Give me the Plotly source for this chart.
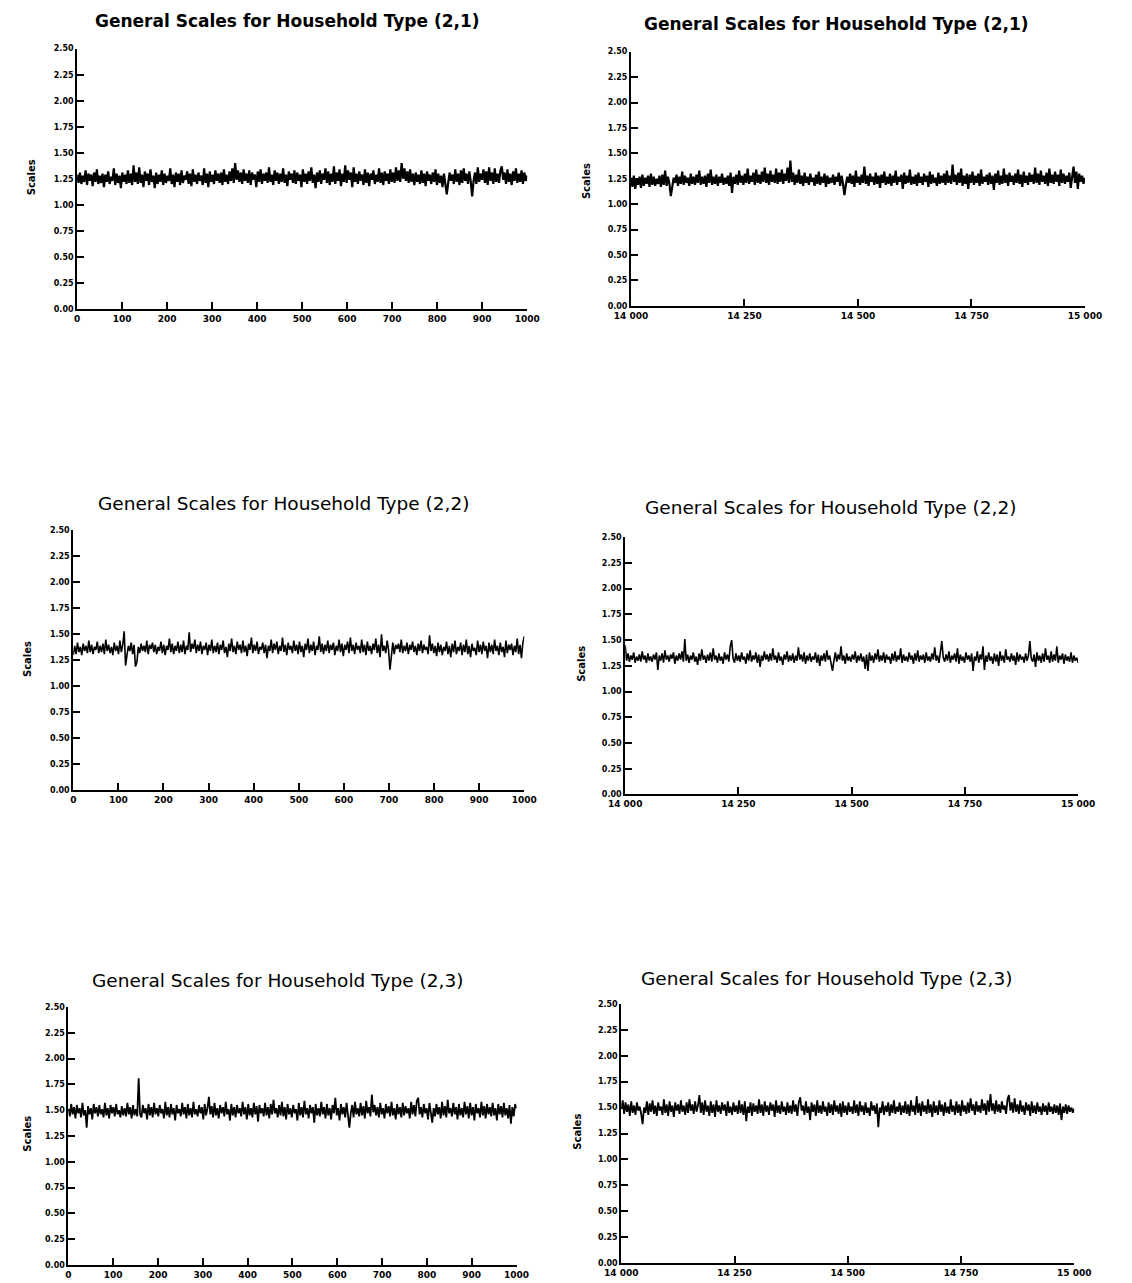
import numpy as np
import plotly.graph_objects as go

W, H = 1132, 1283

# ---- scale traces, sampled every ~3rd iteration ----
scales_21_early = [
    1.29,1.21,1.31,1.20,1.28,1.22,1.33,1.19,1.30,1.23,1.29,1.18,1.31,1.22,1.34,1.20,1.28,1.21,1.30,1.17,
    1.29,1.22,1.32,1.20,1.27,1.23,1.35,1.19,1.30,1.21,1.28,1.16,1.31,1.22,1.29,1.20,1.33,1.21,1.30,1.19,
    1.38,1.22,1.31,1.20,1.36,1.21,1.29,1.17,1.32,1.23,1.30,1.19,1.34,1.22,1.28,1.16,1.31,1.20,1.29,1.22,
    1.33,1.19,1.30,1.21,1.28,1.23,1.35,1.20,1.29,1.17,1.31,1.22,1.30,1.19,1.33,1.21,1.28,1.24,1.32,1.20,
    1.30,1.18,1.34,1.22,1.29,1.20,1.31,1.23,1.28,1.19,1.35,1.21,1.30,1.17,1.32,1.22,1.29,1.20,1.33,1.23,
    1.30,1.21,1.31,1.19,1.34,1.22,1.29,1.20,1.32,1.23,1.35,1.21,1.40,1.24,1.33,1.22,1.31,1.20,1.34,1.23,
    1.30,1.21,1.33,1.19,1.31,1.24,1.29,1.17,1.32,1.22,1.34,1.20,1.30,1.23,1.31,1.21,1.36,1.22,1.29,1.19,
    1.33,1.23,1.31,1.20,1.30,1.22,1.35,1.21,1.29,1.18,1.32,1.24,1.30,1.21,1.33,1.20,1.31,1.23,1.29,1.17,
    1.34,1.22,1.30,1.20,1.32,1.23,1.36,1.21,1.29,1.16,1.31,1.22,1.33,1.20,1.30,1.24,1.35,1.21,1.32,1.19,
    1.30,1.22,1.37,1.20,1.31,1.23,1.34,1.18,1.30,1.22,1.38,1.21,1.33,1.24,1.31,1.17,1.36,1.22,1.30,1.20,
    1.32,1.23,1.29,1.19,1.34,1.21,1.31,1.18,1.30,1.24,1.33,1.20,1.29,1.22,1.35,1.21,1.31,1.19,1.32,1.23,
    1.30,1.20,1.34,1.22,1.31,1.21,1.36,1.23,1.33,1.22,1.40,1.25,1.35,1.23,1.32,1.21,1.34,1.22,1.30,1.19,
    1.31,1.22,1.29,1.20,1.33,1.21,1.30,1.18,1.32,1.23,1.29,1.20,1.31,1.22,1.34,1.19,1.30,1.21,1.28,1.17,
    1.30,1.22,1.10,1.21,1.31,1.23,1.29,1.20,1.34,1.22,1.30,1.19,1.33,1.21,1.35,1.23,1.30,1.20,1.32,1.22,
    1.08,1.23,1.31,1.20,1.36,1.22,1.30,1.24,1.34,1.21,1.32,1.19,1.36,1.23,1.31,1.20,1.35,1.22,1.30,1.21,
    1.33,1.37,1.24,1.31,1.20,1.34,1.22,1.30,1.19,1.32,1.23,1.35,1.21,1.30,1.22,1.33,1.20,1.31,1.23,1.28,
]
scales_21_late = [
    1.26,1.17,1.28,1.15,1.25,1.19,1.27,1.16,1.29,1.18,1.26,1.20,1.28,1.17,1.30,1.19,1.27,1.18,1.25,1.20,
    1.28,1.17,1.29,1.19,1.33,1.18,1.27,1.20,1.08,1.19,1.26,1.21,1.29,1.18,1.27,1.20,1.32,1.19,1.28,1.21,
    1.26,1.18,1.30,1.20,1.27,1.19,1.29,1.21,1.33,1.19,1.27,1.20,1.28,1.17,1.30,1.21,1.34,1.19,1.27,1.20,
    1.29,1.18,1.27,1.21,1.30,1.19,1.26,1.20,1.28,1.18,1.31,1.11,1.27,1.20,1.29,1.19,1.33,1.21,1.28,1.19,
    1.30,1.21,1.35,1.20,1.28,1.22,1.31,1.19,1.34,1.21,1.29,1.20,1.32,1.22,1.36,1.21,1.30,1.19,1.33,1.22,
    1.29,1.21,1.35,1.20,1.31,1.22,1.34,1.20,1.30,1.23,1.36,1.21,1.43,1.22,1.31,1.19,1.29,1.21,1.34,1.20,
    1.28,1.18,1.31,1.21,1.27,1.19,1.30,1.22,1.26,1.18,1.29,1.20,1.32,1.19,1.27,1.21,1.30,1.17,1.28,1.20,
    1.26,1.21,1.29,1.19,1.27,1.22,1.31,1.18,1.28,1.20,1.09,1.19,1.27,1.21,1.30,1.20,1.28,1.17,1.33,1.21,
    1.27,1.19,1.29,1.21,1.37,1.20,1.28,1.18,1.30,1.22,1.27,1.19,1.31,1.20,1.28,1.16,1.29,1.21,1.32,1.19,
    1.27,1.20,1.30,1.18,1.28,1.21,1.33,1.19,1.27,1.22,1.29,1.15,1.31,1.20,1.28,1.21,1.34,1.19,1.27,1.20,
    1.29,1.18,1.31,1.21,1.27,1.19,1.30,1.22,1.28,1.17,1.32,1.20,1.29,1.21,1.26,1.18,1.31,1.20,1.28,1.21,
    1.30,1.19,1.33,1.21,1.28,1.20,1.39,1.22,1.29,1.19,1.31,1.21,1.35,1.18,1.28,1.20,1.30,1.15,1.29,1.21,
    1.32,1.19,1.28,1.21,1.30,1.18,1.34,1.20,1.27,1.22,1.29,1.19,1.31,1.20,1.28,1.14,1.30,1.21,1.33,1.19,
    1.28,1.20,1.35,1.21,1.29,1.18,1.31,1.22,1.28,1.19,1.30,1.21,1.34,1.20,1.29,1.17,1.32,1.21,1.28,1.19,
    1.31,1.22,1.29,1.20,1.36,1.21,1.30,1.19,1.33,1.22,1.28,1.20,1.31,1.18,1.35,1.21,1.29,1.20,1.32,1.22,
    1.29,1.18,1.34,1.21,1.30,1.20,1.28,1.22,1.31,1.16,1.29,1.37,1.21,1.32,1.15,1.30,1.22,1.28,1.20,1.26,
]
scales_22_early = [
    1.30,1.39,1.31,1.42,1.33,1.38,1.30,1.41,1.34,1.39,1.32,1.44,1.33,1.40,1.31,1.38,1.35,1.43,1.32,1.39,
    1.33,1.41,1.31,1.45,1.34,1.40,1.32,1.38,1.30,1.42,1.34,1.39,1.31,1.44,1.33,1.40,1.53,1.20,1.30,1.39,
    1.34,1.42,1.31,1.40,1.19,1.23,1.38,1.32,1.41,1.34,1.39,1.33,1.44,1.31,1.40,1.36,1.42,1.33,1.40,1.31,
    1.38,1.34,1.43,1.32,1.40,1.30,1.39,1.35,1.46,1.33,1.41,1.31,1.39,1.34,1.43,1.32,1.40,1.33,1.44,1.31,
    1.39,1.35,1.52,1.33,1.41,1.36,1.45,1.32,1.40,1.34,1.43,1.31,1.39,1.35,1.42,1.30,1.40,1.34,1.45,1.32,
    1.39,1.33,1.42,1.31,1.40,1.35,1.44,1.32,1.38,1.28,1.41,1.34,1.46,1.33,1.39,1.31,1.43,1.35,1.40,1.32,
    1.44,1.33,1.39,1.29,1.41,1.35,1.47,1.32,1.40,1.34,1.43,1.31,1.38,1.35,1.42,1.32,1.40,1.27,1.39,1.34,
    1.45,1.32,1.41,1.35,1.43,1.31,1.39,1.34,1.47,1.33,1.40,1.30,1.42,1.35,1.39,1.32,1.44,1.34,1.40,1.31,
    1.43,1.33,1.39,1.28,1.41,1.35,1.46,1.32,1.40,1.34,1.43,1.30,1.39,1.35,1.48,1.33,1.41,1.31,1.40,1.34,
    1.44,1.32,1.40,1.35,1.42,1.30,1.39,1.34,1.45,1.33,1.41,1.29,1.40,1.35,1.43,1.32,1.47,1.34,1.40,1.31,
    1.42,1.35,1.39,1.32,1.45,1.33,1.40,1.30,1.43,1.34,1.39,1.31,1.41,1.35,1.46,1.32,1.40,1.28,1.50,1.34,
    1.39,1.32,1.44,1.35,1.16,1.33,1.42,1.31,1.40,1.36,1.41,1.33,1.45,1.32,1.39,1.34,1.42,1.31,1.40,1.35,
    1.43,1.33,1.39,1.30,1.41,1.34,1.44,1.32,1.40,1.35,1.38,1.31,1.49,1.34,1.41,1.32,1.39,1.29,1.42,1.33,
    1.40,1.30,1.38,1.34,1.43,1.31,1.39,1.28,1.41,1.33,1.44,1.31,1.38,1.34,1.42,1.30,1.40,1.33,1.45,1.31,
    1.39,1.28,1.41,1.34,1.37,1.30,1.44,1.33,1.40,1.31,1.43,1.34,1.39,1.27,1.42,1.33,1.40,1.31,1.45,1.34,
    1.39,1.30,1.42,1.33,1.38,1.28,1.44,1.32,1.40,1.35,1.41,1.30,1.39,1.33,1.46,1.31,1.40,1.27,1.42,1.48,
]
scales_22_late = [
    1.45,1.30,1.37,1.29,1.35,1.31,1.38,1.28,1.34,1.30,1.36,1.29,1.39,1.31,1.35,1.28,1.37,1.30,1.34,1.29,
    1.36,1.31,1.38,1.21,1.35,1.30,1.37,1.28,1.40,1.31,1.35,1.29,1.36,1.32,1.38,1.27,1.35,1.30,1.37,1.31,
    1.39,1.29,1.51,1.30,1.36,1.28,1.35,1.31,1.38,1.29,1.34,1.26,1.37,1.30,1.41,1.31,1.35,1.28,1.36,1.30,
    1.38,1.29,1.42,1.31,1.35,1.28,1.37,1.30,1.34,1.27,1.38,1.31,1.36,1.29,1.44,1.50,1.32,1.28,1.37,1.30,
    1.35,1.29,1.38,1.31,1.34,1.27,1.37,1.30,1.40,1.29,1.35,1.31,1.38,1.28,1.36,1.24,1.35,1.30,1.39,1.31,
    1.36,1.29,1.37,1.30,1.42,1.31,1.35,1.28,1.38,1.30,1.34,1.26,1.36,1.31,1.39,1.29,1.35,1.30,1.37,1.28,
    1.35,1.30,1.43,1.31,1.36,1.29,1.38,1.27,1.35,1.30,1.37,1.29,1.34,1.31,1.38,1.28,1.36,1.25,1.35,1.30,
    1.37,1.29,1.40,1.31,1.35,1.28,1.20,1.30,1.38,1.29,1.36,1.31,1.44,1.30,1.35,1.27,1.37,1.30,1.34,1.29,
    1.36,1.31,1.39,1.28,1.35,1.30,1.37,1.29,1.34,1.22,1.36,1.20,1.38,1.30,1.35,1.28,1.37,1.31,1.41,1.29,
    1.35,1.30,1.38,1.28,1.36,1.31,1.34,1.27,1.37,1.30,1.39,1.29,1.35,1.31,1.42,1.28,1.36,1.30,1.34,1.29,
    1.38,1.31,1.35,1.27,1.37,1.30,1.40,1.29,1.35,1.31,1.36,1.28,1.38,1.30,1.34,1.29,1.37,1.31,1.43,1.30,
    1.35,1.28,1.37,1.49,1.33,1.29,1.36,1.30,1.39,1.28,1.35,1.31,1.37,1.29,1.42,1.27,1.36,1.30,1.34,1.28,
    1.38,1.31,1.35,1.29,1.37,1.20,1.34,1.30,1.39,1.28,1.36,1.31,1.44,1.21,1.35,1.29,1.38,1.30,1.34,1.27,
    1.37,1.29,1.36,1.25,1.39,1.30,1.35,1.28,1.41,1.31,1.34,1.29,1.37,1.30,1.35,1.26,1.38,1.29,1.36,1.31,
    1.34,1.28,1.37,1.30,1.35,1.49,1.32,1.29,1.36,1.24,1.38,1.30,1.35,1.28,1.37,1.29,1.42,1.31,1.35,1.28,
    1.39,1.29,1.36,1.30,1.44,1.28,1.35,1.31,1.37,1.27,1.36,1.30,1.34,1.29,1.38,1.28,1.35,1.30,1.33,1.28,
]
scales_23_early = [
    1.51,1.44,1.56,1.46,1.53,1.42,1.55,1.47,1.52,1.43,1.57,1.45,1.50,1.33,1.54,1.46,1.52,1.41,1.56,1.47,
    1.53,1.44,1.55,1.46,1.51,1.43,1.57,1.45,1.52,1.42,1.55,1.47,1.53,1.44,1.56,1.46,1.50,1.43,1.54,1.45,
    1.52,1.44,1.57,1.46,1.53,1.42,1.55,1.45,1.51,1.44,1.81,1.46,1.43,1.55,1.47,1.52,1.41,1.56,1.45,1.53,
    1.43,1.57,1.46,1.52,1.44,1.55,1.47,1.51,1.42,1.58,1.45,1.53,1.43,1.56,1.46,1.52,1.40,1.55,1.47,1.51,
    1.44,1.57,1.46,1.53,1.42,1.56,1.45,1.52,1.43,1.58,1.46,1.51,1.44,1.55,1.47,1.53,1.41,1.56,1.45,1.52,
    1.63,1.46,1.54,1.43,1.57,1.45,1.52,1.42,1.55,1.47,1.53,1.44,1.58,1.46,1.51,1.40,1.56,1.45,1.53,1.43,
    1.55,1.47,1.52,1.44,1.58,1.46,1.53,1.41,1.56,1.45,1.52,1.43,1.57,1.46,1.54,1.39,1.55,1.47,1.52,1.44,
    1.57,1.45,1.53,1.42,1.56,1.46,1.60,1.47,1.52,1.43,1.55,1.45,1.58,1.44,1.53,1.41,1.56,1.46,1.52,1.43,
    1.55,1.47,1.51,1.40,1.57,1.45,1.53,1.43,1.59,1.46,1.52,1.42,1.55,1.47,1.53,1.38,1.56,1.45,1.52,1.44,
    1.58,1.46,1.53,1.42,1.56,1.45,1.52,1.41,1.55,1.47,1.62,1.45,1.52,1.40,1.56,1.46,1.53,1.43,1.57,1.45,
    1.33,1.47,1.55,1.43,1.58,1.46,1.52,1.44,1.57,1.45,1.54,1.42,1.59,1.47,1.53,1.44,1.65,1.48,1.55,1.45,
    1.53,1.43,1.57,1.46,1.52,1.42,1.56,1.47,1.54,1.44,1.58,1.45,1.52,1.41,1.56,1.46,1.53,1.43,1.57,1.45,
    1.54,1.47,1.52,1.42,1.58,1.46,1.55,1.44,1.59,1.62,1.46,1.53,1.43,1.56,1.47,1.52,1.41,1.57,1.45,1.38,
    1.52,1.44,1.56,1.46,1.53,1.42,1.58,1.45,1.54,1.43,1.60,1.47,1.52,1.44,1.57,1.46,1.53,1.41,1.56,1.45,
    1.52,1.43,1.58,1.46,1.54,1.42,1.57,1.45,1.53,1.40,1.56,1.47,1.52,1.43,1.58,1.45,1.54,1.42,1.56,1.46,
    1.53,1.44,1.57,1.45,1.52,1.40,1.56,1.46,1.54,1.43,1.57,1.45,1.52,1.42,1.55,1.37,1.53,1.44,1.56,1.52,
]
scales_23_late = [
    1.50,1.57,1.44,1.55,1.46,1.53,1.42,1.56,1.45,1.52,1.43,1.55,1.47,1.51,1.44,1.34,1.50,1.45,1.56,1.43,
    1.54,1.46,1.57,1.44,1.52,1.42,1.55,1.47,1.51,1.43,1.58,1.45,1.53,1.42,1.56,1.46,1.52,1.41,1.55,1.47,
    1.53,1.44,1.57,1.46,1.52,1.43,1.55,1.45,1.58,1.47,1.53,1.44,1.56,1.46,1.52,1.62,1.45,1.55,1.43,1.57,
    1.46,1.52,1.42,1.56,1.45,1.53,1.41,1.57,1.46,1.52,1.44,1.55,1.47,1.53,1.42,1.56,1.45,1.51,1.43,1.55,
    1.46,1.52,1.44,1.57,1.45,1.53,1.43,1.56,1.37,1.51,1.45,1.55,1.42,1.54,1.46,1.52,1.44,1.58,1.45,1.53,
    1.42,1.56,1.46,1.52,1.43,1.55,1.47,1.53,1.41,1.57,1.45,1.52,1.44,1.56,1.46,1.51,1.43,1.55,1.45,1.52,
    1.44,1.57,1.46,1.53,1.42,1.55,1.60,1.47,1.52,1.43,1.56,1.45,1.51,1.38,1.55,1.46,1.53,1.42,1.57,1.45,
    1.52,1.44,1.56,1.46,1.51,1.42,1.55,1.45,1.53,1.43,1.57,1.46,1.52,1.44,1.54,1.41,1.56,1.45,1.52,1.43,
    1.55,1.46,1.51,1.44,1.57,1.45,1.53,1.42,1.56,1.46,1.52,1.43,1.55,1.45,1.50,1.42,1.56,1.47,1.52,1.44,
    1.54,1.31,1.50,1.45,1.56,1.43,1.52,1.46,1.55,1.42,1.53,1.45,1.57,1.44,1.51,1.46,1.55,1.43,1.52,1.45,
    1.56,1.44,1.53,1.42,1.57,1.46,1.52,1.43,1.61,1.45,1.54,1.42,1.56,1.46,1.52,1.44,1.58,1.45,1.53,1.41,
    1.56,1.45,1.52,1.43,1.57,1.46,1.53,1.42,1.55,1.45,1.51,1.44,1.58,1.46,1.52,1.43,1.56,1.45,1.53,1.42,
    1.57,1.46,1.52,1.44,1.55,1.45,1.59,1.47,1.53,1.43,1.56,1.46,1.52,1.45,1.58,1.47,1.54,1.43,1.57,1.46,
    1.63,1.47,1.54,1.44,1.57,1.46,1.53,1.45,1.56,1.48,1.52,1.44,1.58,1.62,1.47,1.55,1.45,1.59,1.46,1.53,
    1.44,1.57,1.46,1.52,1.43,1.55,1.47,1.53,1.42,1.56,1.45,1.52,1.44,1.55,1.46,1.51,1.43,1.54,1.46,1.52,
    1.43,1.55,1.46,1.51,1.44,1.53,1.45,1.52,1.43,1.54,1.38,1.51,1.45,1.53,1.44,1.52,1.46,1.50,1.45,1.49,
]

titles = [
    "General Scales for Household Type (2,1)",
    "General Scales for Household Type (2,2)",
    "General Scales for Household Type (2,3)",
]
early_iter = (0, 1000)
late_iter = (14000, 15000)
y_ticks = [0.0, 0.25, 0.5, 0.75, 1.0, 1.25, 1.5, 1.75, 2.0, 2.25, 2.5]
late_ticks = [14000, 14250, 14500, 14750, 15000]
late_tick_text = ["14 000", "14 250", "14 500", "14 750", "15 000"]

series = [
    (scales_21_early, scales_21_late),
    (scales_22_early, scales_22_late),
    (scales_23_early, scales_23_late),
]

# plot-area boxes in pixels: (left, top, right, bottom)
boxes = [
    [(62, 45, 526, 307), (633, 48, 1101, 304)],
    [(58, 530, 523, 792), (627, 537, 1094, 796)],
    [(53, 1010, 515, 1270), (623, 1007, 1090, 1268)],
]
# title centres in pixels: (x, y)
title_pos = [
    [(279, 17), (845, 20)],
    [(275, 503), (839, 507)],
    [(269, 983), (835, 981)],
]
# y-axis label centres in pixels: (x, y)
ylabel_pos = [
    [(15, 175), (587, 178)],
    [(11, 660), (582, 665)],
    [(10, 1138), (577, 1136)],
]
title_fonts = [
    dict(family="DejaVu Sans", size=17, color="black", weight="bold"),
    dict(family="DejaVu Sans", size=18.5, color="black"),
    dict(family="DejaVu Sans", size=18.5, color="black"),
]
trace_widths = [2.2, 1.6, 1.8]

fig = go.Figure()
annotations = []
n = 0
for r in range(3):
    for c in range(2):
        n += 1
        left, top, right, bottom = boxes[r][c]
        vals = series[r][c]
        lo, hi = early_iter if c == 0 else late_iter
        x = np.linspace(lo, hi, len(vals))
        xa = "x" if n == 1 else f"x{n}"
        ya = "y" if n == 1 else f"y{n}"
        fig.add_trace(go.Scatter(
            x=x, y=vals, mode="lines", xaxis=xa, yaxis=ya,
            line=dict(color="black", width=trace_widths[r]), showlegend=False,
            hoverinfo="skip",
        ))
        xkey = "xaxis" if n == 1 else f"xaxis{n}"
        ykey = "yaxis" if n == 1 else f"yaxis{n}"
        xdom = [left / W, right / W]
        ydom = [1 - bottom / H, 1 - top / H]
        xcfg = dict(
            domain=xdom, range=[lo, hi], anchor=ya,
            showgrid=False, zeroline=False, showline=True,
            linecolor="black", linewidth=2, ticks="inside", ticklen=7,
            tickwidth=2, tickcolor="black",
            tickfont=dict(family="DejaVu Sans", size=9, color="black", weight="bold"),
        )
        if c == 0:
            xcfg.update(tickmode="linear", tick0=0, dtick=100)
        else:
            xcfg.update(tickmode="array", tickvals=late_ticks, ticktext=late_tick_text)
        ycfg = dict(
            domain=ydom, range=[0, 2.5], anchor=xa,
            showgrid=False, zeroline=False, showline=True,
            linecolor="black", linewidth=2, ticks="inside", ticklen=7,
            tickwidth=2, tickcolor="black",
            tickmode="array", tickvals=y_ticks,
            ticktext=[f"{v:.2f}" for v in y_ticks],
            tickfont=dict(family="DejaVu Sans", size=8, color="black", weight="bold"),
        )
        fig.update_layout({xkey: xcfg, ykey: ycfg})

        tx, ty = title_pos[r][c]
        annotations.append(dict(
            text=titles[r], xref="paper", yref="paper",
            x=tx / W, y=1 - ty / H,
            xanchor="center", yanchor="middle", showarrow=False,
            font=title_fonts[r],
        ))
        lx, ly = ylabel_pos[r][c]
        annotations.append(dict(
            text="Scales", xref="paper", yref="paper",
            x=lx / W, y=1 - ly / H,
            xanchor="center", yanchor="middle", showarrow=False, textangle=-90,
            font=dict(family="DejaVu Sans", size=10, color="black", weight="bold"),
        ))

fig.update_layout(
    width=W, height=H, margin=dict(l=0, r=0, t=0, b=0),
    paper_bgcolor="white", plot_bgcolor="white",
    annotations=annotations, showlegend=False,
)

fig.write_html("out.html")
